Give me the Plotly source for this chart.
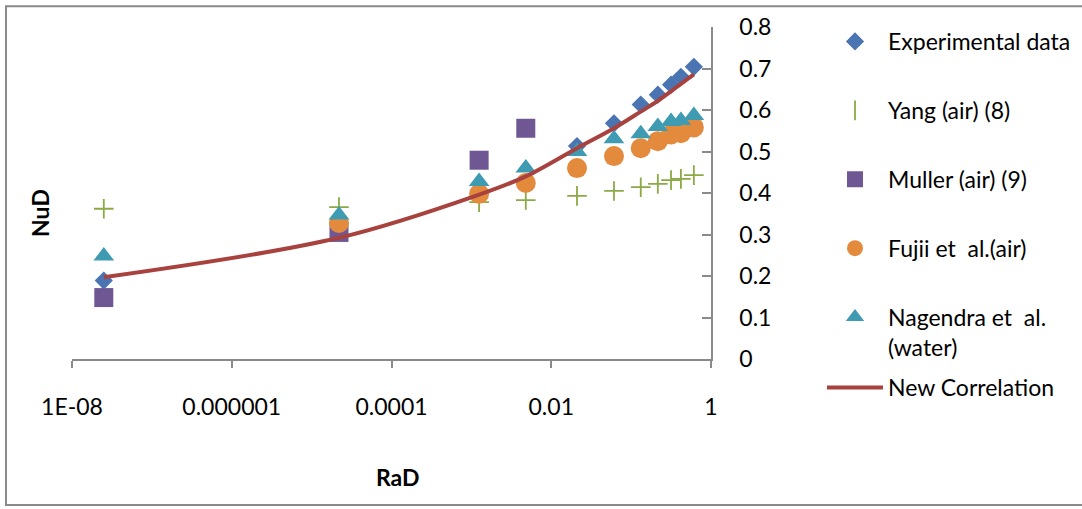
import plotly.graph_objects as go

# Rayleigh number (RaD) positions for each data set
exp_x = [2.5e-8, 0.021, 0.061, 0.132, 0.216, 0.316, 0.42, 0.61]
exp_nu = [0.189, 0.513, 0.568, 0.613, 0.637, 0.661, 0.680, 0.704]

yang_x = [2.5e-8, 2.2e-5, 1.25e-3, 4.8e-3, 0.021, 0.061, 0.132, 0.216, 0.316, 0.42, 0.61]
yang_nu = [0.362, 0.366, 0.378, 0.383, 0.393, 0.405, 0.414, 0.422, 0.431, 0.434, 0.443]

muller_x = [2.5e-8, 2.2e-5, 1.25e-3, 4.8e-3]
muller_nu = [0.148, 0.305, 0.479, 0.556]

fujii_x = [2.2e-5, 1.25e-3, 4.8e-3, 0.021, 0.061, 0.132, 0.216, 0.316, 0.42, 0.61]
fujii_nu = [0.328, 0.398, 0.424, 0.460, 0.489, 0.508, 0.525, 0.541, 0.544, 0.558]

nagendra_x = [2.5e-8, 2.2e-5, 1.25e-3, 4.8e-3, 0.021, 0.061, 0.132, 0.216, 0.316, 0.42, 0.61]
nagendra_nu = [0.248, 0.347, 0.428, 0.460, 0.500, 0.531, 0.543, 0.560, 0.572, 0.575, 0.587]

corr_x = [2.5e-8, 2.2e-5, 1.25e-3, 4.8e-3, 0.021, 0.061, 0.132, 0.216, 0.316, 0.42, 0.61]
corr_nu = [0.197, 0.292, 0.396, 0.440, 0.508, 0.556, 0.596, 0.622, 0.645, 0.663, 0.686]

x_tickvals = [1e-8, 1e-6, 1e-4, 1e-2, 1]
x_ticktext = ["1E-08", "0.000001", "0.0001", "0.01", "1"]

FONT = "Lato, 'Open Sans', sans-serif"
FSIZE = 23
AXIS_GREY = "#8a8a8a"
GREEN = "#8BAA45"

fig = go.Figure()

fig.add_trace(go.Scatter(
    x=exp_x, y=exp_nu, mode="markers", name="Experimental data",
    legendgroup="g1",
    marker=dict(symbol="diamond", size=14, color="#4A74B2"),
))
# legend key for the Yang series (a short vertical stroke)
fig.add_trace(go.Scatter(
    x=[None], y=[None], mode="markers", name="Yang (air) (8)",
    legendgroup="g2",
    marker=dict(symbol="line-ns", size=14, color=GREEN,
                line=dict(color=GREEN, width=1.8)),
))
fig.add_trace(go.Scatter(
    x=yang_x, y=yang_nu, mode="markers", name="Yang (air) (8)",
    legendgroup="g2", showlegend=False,
    marker=dict(symbol="cross-thin", size=14, color=GREEN,
                line=dict(color=GREEN, width=1.8)),
))
fig.add_trace(go.Scatter(
    x=muller_x, y=muller_nu, mode="markers", name="Muller (air) (9)",
    legendgroup="g3",
    marker=dict(symbol="square", size=19, color="#6F5794"),
))
fig.add_trace(go.Scatter(
    x=fujii_x, y=fujii_nu, mode="markers", name="Fujii et\u00a0 al.(air)",
    legendgroup="g4",
    marker=dict(symbol="circle", size=20, color="#E38A3D"),
))
fig.add_trace(go.Scatter(
    x=nagendra_x, y=nagendra_nu, mode="markers", name="Nagendra et\u00a0 al.<br>(water)",
    legendgroup="g5",
    marker=dict(symbol="triangle-up", size=18, color="#3E9BB2"),
))
fig.add_trace(go.Scatter(
    x=corr_x, y=corr_nu, mode="lines", name="New Correlation",
    legend="legend2",
    line=dict(color="#A8423F", width=4, shape="spline", smoothing=1.0),
))

fig.update_layout(
    width=1082, height=509,
    margin=dict(l=72, r=371, t=25, b=150),
    paper_bgcolor="white", plot_bgcolor="white",
    font=dict(family=FONT, size=FSIZE, color="#000000"),
    xaxis=dict(
        type="log", range=[-8, 0],
        tickvals=x_tickvals, ticktext=x_ticktext,
        ticks="outside", ticklen=7, tickcolor=AXIS_GREY, tickwidth=1.5,
        showline=True, linecolor=AXIS_GREY, linewidth=1.5,
        showgrid=False, zeroline=False,
        ticklabelstandoff=20,
        tickfont=dict(family=FONT, size=FSIZE, color="#000000"),
    ),
    yaxis=dict(
        range=[0, 0.8], dtick=0.1, side="right",
        ticks="inside", ticklen=9, tickcolor=AXIS_GREY, tickwidth=1.5,
        showline=True, linecolor=AXIS_GREY, linewidth=1.5,
        showgrid=False, zeroline=False,
        ticklabelstandoff=22,
        tickfont=dict(family=FONT, size=FSIZE, color="#000000"),
    ),
    legend=dict(
        xref="container", yref="container",
        x=822 / 1082, y=1 - 20 / 509, xanchor="left", yanchor="top",
        bgcolor="rgba(0,0,0,0)", borderwidth=0,
        tracegroupgap=36, valign="top", maxheight=480, itemwidth=56,
        font=dict(family=FONT, size=FSIZE, color="#000000"),
    ),
    legend2=dict(
        xref="container", yref="container",
        x=822 / 1082, y=1 - 366 / 509, xanchor="left", yanchor="top",
        bgcolor="rgba(0,0,0,0)", borderwidth=0, itemwidth=56,
        font=dict(family=FONT, size=FSIZE, color="#000000"),
    ),
    shapes=[
        dict(type="rect", xref="paper", yref="paper",
             x0=(6 - 72) / 639, x1=(1090 - 72) / 639,
             y0=(359 - 506) / 334, y1=(359 - 4) / 334,
             line=dict(color=AXIS_GREY, width=2), fillcolor="rgba(0,0,0,0)",
             layer="below"),
    ],
    annotations=[
        dict(text="<b>NuD</b>", textangle=-90, showarrow=False,
             xref="paper", yref="paper",
             x=(40 - 72) / 639, y=(359 - 212) / 334,
             xanchor="center", yanchor="middle",
             font=dict(family=FONT, size=FSIZE, color="#000000")),
        dict(text="<b>RaD</b>", showarrow=False,
             xref="paper", yref="paper",
             x=(398 - 72) / 639, y=(359 - 478) / 334,
             xanchor="center", yanchor="middle",
             font=dict(family=FONT, size=FSIZE, color="#000000")),
    ],
    showlegend=True,
)

fig.write_html("out.html")
